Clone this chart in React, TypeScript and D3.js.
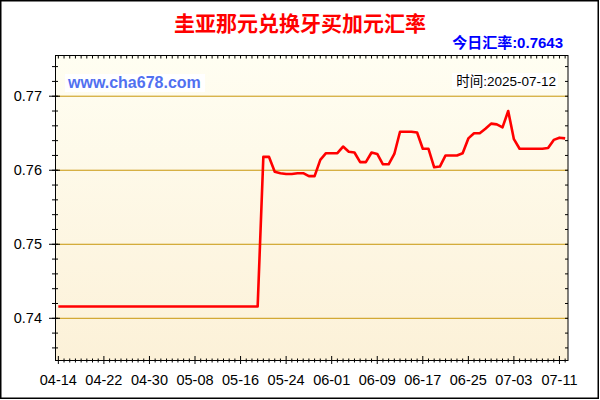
import * as d3 from 'd3';

const W = 600;
const H = 400;
const plot = { left: 55.5, right: 568, top: 55.5, bottom: 360.5 };

const title = '圭亚那元兑换牙买加元汇率';
const rateLabel = '今日汇率:0.7643';
const siteLabel = 'www.cha678.com';
const timeLabel = '时间:2025-07-12';

// one value per day, starting 2025-04-14
const firstDay = new Date(2025, 3, 14);
const rates = [
  // 04-14 .. 04-30
  0.7416, 0.7416, 0.7416, 0.7416, 0.7416, 0.7416, 0.7416, 0.7416, 0.7416,
  0.7416, 0.7416, 0.7416, 0.7416, 0.7416, 0.7416, 0.7416, 0.7416,
  // 05-01 .. 05-19
  0.7416, 0.7416, 0.7416, 0.7416, 0.7416, 0.7416, 0.7416, 0.7416, 0.7416,
  0.7416, 0.7416, 0.7416, 0.7416, 0.7416, 0.7416, 0.7416, 0.7416, 0.7416, 0.7416,
  // 05-20 .. 05-31
  0.7618, 0.7618, 0.7598, 0.7596, 0.7595, 0.7595, 0.7596, 0.7596, 0.7592, 0.7592,
  0.7614, 0.7623,
  // 06-01 .. 06-30
  0.7623, 0.7623, 0.7632, 0.7625, 0.7624, 0.7611, 0.7611, 0.7624, 0.7622, 0.7608,
  0.7608, 0.7622, 0.7652, 0.7652, 0.7652, 0.7651, 0.7629, 0.7629, 0.7604, 0.7605,
  0.762, 0.762, 0.762, 0.7623, 0.7643, 0.765, 0.765, 0.7656, 0.7663, 0.7662,
  // 07-01 .. 07-12
  0.7658, 0.768, 0.7642, 0.7629, 0.7629, 0.7629, 0.7629, 0.7629, 0.763, 0.7641,
  0.7644, 0.7643,
];
const yMajor = [0.74, 0.75, 0.76, 0.77];
const yDomain = [0.7343, 0.7755];
const labelEvery = 8;

const days = rates.map((_, i) => d3.timeDay.offset(firstDay, i));

const x = d3
  .scaleTime()
  .domain([new Date(2025, 3, 13, 12), new Date(2025, 6, 12, 12)])
  .range([plot.left, plot.right]);
const y = d3.scaleLinear().domain(yDomain).range([plot.bottom, plot.top]);

const fmtDay = d3.timeFormat('%m-%d');
const yMinor = d3.range(0.736, 0.7755, 0.002);

const line = d3
  .line<number>()
  .x((_, i) => x(days[i]))
  .y((d) => y(d));

const latin = '"Liberation Sans", Arial, sans-serif';
const cjk = '"Liberation Sans", "Noto Sans CJK SC", sans-serif';

export default function App() {
  return (
    <svg
      width={W}
      height={H}
      style={{ position: 'absolute', left: 0, top: 0, background: '#fff' }}
    >
      <defs>
        <linearGradient id="bg" x1="0" y1="0" x2="0" y2="1">
          <stop offset="0" stopColor="#fffef2" />
          <stop offset="1" stopColor="#fcf1d8" />
        </linearGradient>
      </defs>
      <rect x={0.75} y={0.75} width={597.5} height={397.5} fill="#fff" stroke="#000" strokeWidth={1.5} />

      <text x={300} y={23} textAnchor="middle" dominantBaseline="central"
        fontFamily={cjk} fontWeight={700} fontSize={21} fill="#ff0000">
        {title}
      </text>
      <text x={563} y={48} textAnchor="end" fontFamily={cjk} fontWeight={700} fontSize={15} fill="#0000ff">
        {rateLabel}
      </text>

      <rect x={plot.left} y={plot.top} width={plot.right - plot.left} height={plot.bottom - plot.top} fill="url(#bg)" />

      {yMajor.map((v) => (
        <line key={v} x1={plot.left} x2={plot.right} y1={y(v)} y2={y(v)} stroke="#c8960a" strokeWidth={1} />
      ))}

      <rect x={65} y={74} width={140} height={18} fill="#fff" />
      <text x={68} y={88} fontFamily={latin} fontWeight={700} fontSize={16} fill="#5170f0">
        {siteLabel}
      </text>
      <rect x={452} y={73} width={106} height={16} fill="#fff" />
      <text x={556} y={86} textAnchor="end" fontFamily={cjk} fontSize={13.5} fill="#000">
        {timeLabel}
      </text>

      <path d={line(rates) ?? ''} fill="none" stroke="#ff0000" strokeWidth={2.6} strokeLinejoin="round" />

      <rect x={plot.left} y={plot.top} width={plot.right - plot.left} height={plot.bottom - plot.top}
        fill="none" stroke="#000" strokeWidth={1} />

      {/* y ticks */}
      {yMinor.map((v, i) => (
        <g key={i}>
          <line x1={52} x2={58} y1={y(v)} y2={y(v)} stroke="#000" />
          <line x1={plot.right - 3} x2={plot.right} y1={y(v)} y2={y(v)} stroke="#000" />
        </g>
      ))}
      {yMajor.map((v) => (
        <g key={v}>
          <line x1={49} x2={60} y1={y(v)} y2={y(v)} stroke="#000" />
          <text x={42} y={y(v) + 5} textAnchor="end" fontFamily={latin} fontSize={14.5} fill="#000">
            {v.toFixed(2)}
          </text>
        </g>
      ))}

      {/* x ticks */}
      {days.map((d, i) => {
        const major = i % labelEvery === 0;
        const px = x(d);
        return (
          <g key={i}>
            <line x1={px} x2={px} y1={plot.top} y2={plot.top + 3} stroke="#000" />
            <line x1={px} x2={px} y1={major ? plot.bottom - 4.5 : plot.bottom - 2}
              y2={major ? plot.bottom + 3.5 : plot.bottom + 2} stroke="#000" />
            {major && (
              <text x={px} y={385} textAnchor="middle" fontFamily={latin} fontSize={14.5} fill="#000">
                {fmtDay(d)}
              </text>
            )}
          </g>
        );
      })}
    </svg>
  );
}
